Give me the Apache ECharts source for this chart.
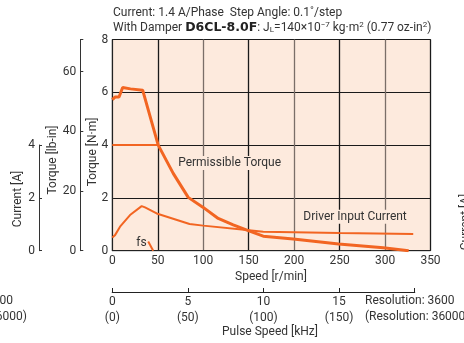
<!DOCTYPE html>
<html>
<head>
<meta charset="utf-8">
<script src="https://cdn.jsdelivr.net/npm/echarts@6/dist/echarts.min.js"></script>
<style>
html,body{margin:0;padding:0;background:#fff;}
#c{width:464px;height:343px;}
</style>
</head>
<body>
<div id="c"></div>
<script>
// ---- data ----
const speedTicks = [0, 50, 100, 150, 200, 250, 300, 350];
const torqueNmTicks = [0, 2, 4, 6, 8];
const torqueLbinTicks = [0, 20, 40, 60];
const currentTicks = [0, 2, 4];
const pulseKHzTicks = [0, 5, 10, 15, 20];
const pulseLabelsTop = ['0', '5', '10', '15', ''];
const pulseLabelsBottom = ['(0)', '(50)', '(100)', '(150)', ''];

// pull-out torque [r/min, N·m]
const pulloutTorque = [
  [0, 5.72], [3, 5.82], [7.4, 5.82], [11.4, 6.18], [20, 6.13], [33.4, 6.08],
  [50.5, 4.0], [67, 2.93], [83.5, 2.02], [100, 1.64], [116.5, 1.22],
  [133, 0.98], [149.5, 0.76], [166, 0.55], [199, 0.44], [249, 0.25],
  [298, 0.11], [326, 0.0]
];
// driver input current [r/min, A]
const inputCurrent = [
  [0, 0.5], [3, 0.59], [8.5, 0.91], [19.5, 1.35], [32.3, 1.69], [36, 1.64],
  [48.8, 1.41], [85, 1.01], [100, 0.95], [147.7, 0.78], [166, 0.72],
  [250, 0.67], [331, 0.63]
];
// permissible torque line
const permissibleTorque = [[0, 4.0], [50.5, 4.0]];
// fs (max starting)
const fsLine = [[39.5, 0.35], [45, 0.0]];

const NM_TO_LBIN = 8.8507;
const ORANGE = '#f26522';
const BG = '#fdeadd';
const TXT = '#333';
const FONT = 'Roboto, sans-serif';
const FS = 12;

const chart = echarts.init(document.getElementById('c'), null, {renderer: 'canvas'});

const splitColors = speedTicks.map((v) => (v % 100 === 0 ? '#7a6e68' : '#1a1a1a'));

const option = {
  animation: false,
  textStyle: {fontFamily: FONT, color: TXT},
  grid: [
    {left: 112.3, right: 33.5, top: 39.5, bottom: 92.3, show: true,
     backgroundColor: BG, borderColor: '#333', borderWidth: 1},
    {left: 39, width: 1, top: 145, bottom: 92.3, show: false},
    {left: 112.3, width: 302.4, top: 291, height: 1, show: false}
  ],
  xAxis: [
    {gridIndex: 0, type: 'value', min: 0, max: 350, interval: 50,
     axisLine: {show: true, lineStyle: {color: '#222'}},
     axisTick: {show: false},
     axisLabel: {fontSize: FS, color: TXT, margin: 4, fontFamily: FONT},
     splitLine: {show: true, lineStyle: {color: splitColors, width: 1.3}}},
    {gridIndex: 1, type: 'value', show: false, min: 0, max: 1},
    {gridIndex: 2, type: 'value', min: 0, max: 20, interval: 5, position: 'bottom',
     axisLine: {show: true, lineStyle: {color: '#222', width: 1.2}},
     axisTick: {show: true, inside: true, length: 4, lineStyle: {color: '#222'}},
     axisLabel: {fontSize: FS, color: TXT, margin: 2, lineHeight: 16, fontFamily: FONT,
       formatter: function (v) {
         const i = pulseKHzTicks.indexOf(v);
         if (i < 0 || pulseLabelsTop[i] === '') return '';
         return pulseLabelsTop[i] + '\n' + pulseLabelsBottom[i];
       }},
     splitLine: {show: false}}
  ],
  yAxis: [
    {gridIndex: 0, type: 'value', min: 0, max: 8, interval: 2,
     axisLine: {show: true, lineStyle: {color: '#222'}},
     axisTick: {show: false},
     axisLabel: {fontSize: FS, color: TXT, margin: 4, fontFamily: FONT},
     splitLine: {show: true, lineStyle: {color: '#1a1a1a', width: 1.2}}},
    {gridIndex: 0, type: 'value', position: 'left', offset: 32,
     min: 0, max: 8 * NM_TO_LBIN, interval: 20,
     axisLine: {show: true, lineStyle: {color: '#333'}},
     axisTick: {show: true, inside: true, length: 3, lineStyle: {color: '#333'}},
     axisLabel: {fontSize: FS, color: TXT, margin: 4, fontFamily: FONT,
       formatter: function (v) { return torqueLbinTicks.indexOf(v) >= 0 ? String(v) : ''; }},
     splitLine: {show: false}},
    {gridIndex: 1, type: 'value', min: 0, max: 4, interval: 2,
     axisLine: {show: true, lineStyle: {color: '#333'}},
     axisTick: {show: true, inside: true, length: 3, lineStyle: {color: '#333'}},
     axisLabel: {fontSize: FS, color: TXT, margin: 4, fontFamily: FONT},
     splitLine: {show: false}},
    {gridIndex: 2, type: 'value', show: false, min: 0, max: 1}
  ],
  series: [
    {type: 'line', xAxisIndex: 0, yAxisIndex: 0, data: pulloutTorque, symbol: 'none',
     lineStyle: {color: ORANGE, width: 3}, z: 5},
    {type: 'line', xAxisIndex: 0, yAxisIndex: 0, data: inputCurrent, symbol: 'none',
     lineStyle: {color: ORANGE, width: 2}, z: 4},
    {type: 'line', xAxisIndex: 0, yAxisIndex: 0, data: permissibleTorque, symbol: 'none',
     lineStyle: {color: ORANGE, width: 2}, z: 4,
     markPoint: {symbol: 'rect', symbolSize: 0, silent: true,
       label: {show: true, fontFamily: FONT, fontSize: FS, color: TXT},
       data: [
         {coord: [129, 3.32], value: 'Permissible Torque',
          label: {formatter: 'Permissible Torque', backgroundColor: BG, padding: [1, 2]}},
         {coord: [267, 1.29], value: 'Driver Input Current',
          label: {formatter: 'Driver Input Current', backgroundColor: BG, padding: [1, 2]}},
         {coord: [32, 0.29], value: 'fs',
          label: {formatter: 'fs'}}
       ]}},
    {type: 'line', xAxisIndex: 0, yAxisIndex: 0, data: fsLine, symbol: 'none',
     lineStyle: {color: ORANGE, width: 2}, z: 4}
  ],
  graphic: [
    {type: 'text', left: 113, top: 7, style: {text: 'Current: 1.4 A/Phase  Step Angle: 0.1˚/step',
      font: FS + 'px ' + FONT, fill: TXT}},
    {type: 'text', left: 113, top: 21, style: {
      text: 'With Damper {b|D6CL-8.0F}: J{sub|L}=140×10{sup|−7} kg·m{sup|2} (0.77 oz-in{sup|2})',
      font: FS + 'px ' + FONT, fill: TXT,
      rich: {
        b: {fontFamily: '"DejaVu Sans", sans-serif', fontWeight: 'bold', fontSize: 12.5, fill: '#222'},
        sub: {fontSize: 8, fontFamily: FONT, padding: [4, 0, 0, 0]},
        sup: {fontSize: 8, fontFamily: FONT, verticalAlign: 'top', padding: [0, 0, 6, 0]}
      }}},
    {type: 'text', x: 93, y: 152, rotation: Math.PI / 2,
     style: {text: 'Torque [N·m]', font: FS + 'px ' + FONT, fill: TXT, align: 'center', verticalAlign: 'middle'}},
    {type: 'text', x: 53, y: 160, rotation: Math.PI / 2,
     style: {text: 'Torque [lb-in]', font: FS + 'px ' + FONT, fill: TXT, align: 'center', verticalAlign: 'middle'}},
    {type: 'text', x: 18, y: 199, rotation: Math.PI / 2,
     style: {text: 'Current [A]', font: FS + 'px ' + FONT, fill: TXT, align: 'center', verticalAlign: 'middle'}},
    {type: 'text', x: 466, y: 222, rotation: Math.PI / 2,
     style: {text: 'Current [A]', font: FS + 'px ' + FONT, fill: TXT, align: 'center', verticalAlign: 'middle'}},
    {type: 'text', x: 271, y: 277,
     style: {text: 'Speed [r/min]', font: FS + 'px ' + FONT, fill: TXT, align: 'center', verticalAlign: 'middle'}},
    {type: 'text', x: 270, y: 332,
     style: {text: 'Pulse Speed [kHz]', font: FS + 'px ' + FONT, fill: TXT, align: 'center', verticalAlign: 'middle'}},
    {type: 'text', x: 365, y: 301,
     style: {text: 'Resolution: 3600', font: FS + 'px ' + FONT, fill: TXT, align: 'left', verticalAlign: 'middle'}},
    {type: 'text', x: 365, y: 317,
     style: {text: '(Resolution: 36000)', font: FS + 'px ' + FONT, fill: TXT, align: 'left', verticalAlign: 'middle'}},
    {type: 'text', x: 13, y: 301,
     style: {text: 'Resolution: 3600', font: FS + 'px ' + FONT, fill: TXT, align: 'right', verticalAlign: 'middle'}},
    {type: 'text', x: 27, y: 317,
     style: {text: '(Resolution: 36000)', font: FS + 'px ' + FONT, fill: TXT, align: 'right', verticalAlign: 'middle'}}
  ]
};
chart.setOption(option);
</script>
</body>
</html>
